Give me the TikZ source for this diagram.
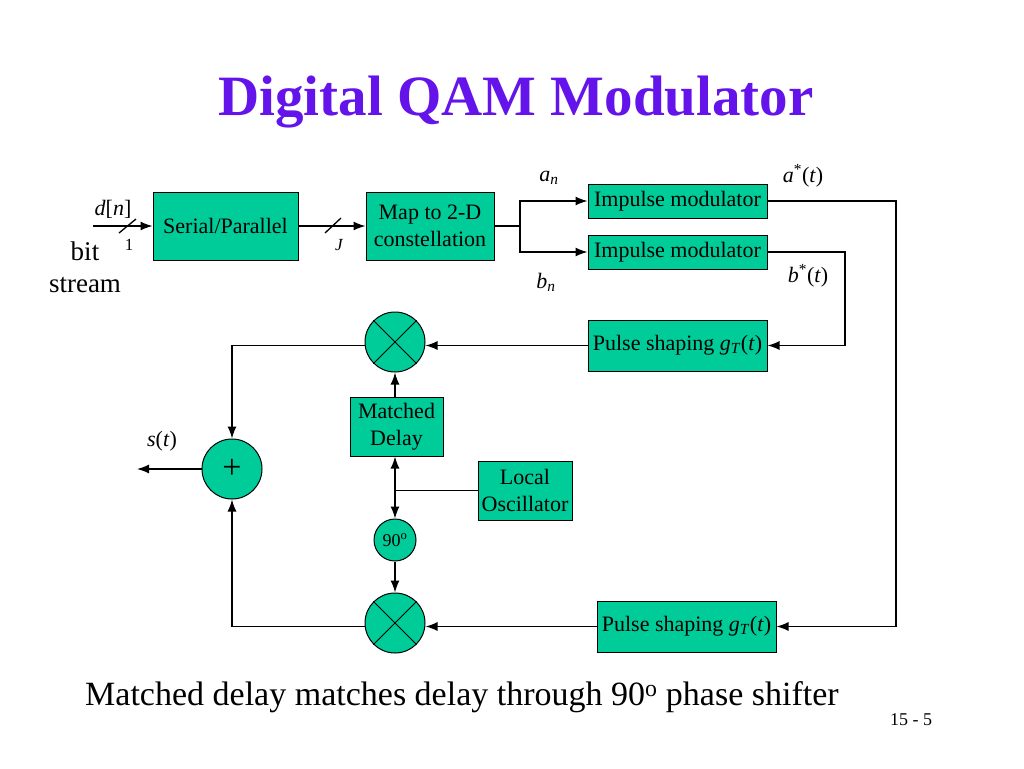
\documentclass[tikz,border=0pt]{standalone}
\usepackage{fontspec}
\setmainfont{Liberation Serif}
\usetikzlibrary{arrows.meta}
\definecolor{qgreen}{RGB}{0,204,153}
\definecolor{qpurple}{RGB}{100,20,235}
\begin{document}
\begin{tikzpicture}[x=1pt,y=-1pt,
  blk/.style={draw=black, line width=1pt, fill=qgreen, inner sep=0pt, align=center, font=\fontsize{22}{27}\selectfont},
  circ/.style={circle, draw=black, line width=1pt, fill=qgreen, inner sep=0pt, minimum size=60pt},
  arr/.style={-{Latex[length=12pt,width=9pt]}, line width=1.3pt},
  ln/.style={line width=1.3pt},
  lbl/.style={font=\fontsize{22}{24}\selectfont, inner sep=0pt}]
\useasboundingbox[fill=white] (0,0) rectangle (1024,768);

% title
\node[font=\fontsize{57}{60}\selectfont\bfseries, text=qpurple, inner sep=0pt] (title) at (516,102) {Digital QAM Modulator};

% blocks
\node[blk, minimum width=145pt, minimum height=68pt] (sp) at (225.5,226) {Serial/Parallel};
\node[blk, minimum width=128pt, minimum height=68pt] (map) at (430,226) {Map to 2-D\\constellation};
\node[blk, minimum width=179pt, minimum height=34pt] (im1) at (677.5,201) {Impulse modulator};
\node[blk, minimum width=179pt, minimum height=34pt] (im2) at (677.5,252) {Impulse modulator};
\node[blk, minimum width=179pt, minimum height=51pt] (ps1) at (677.5,345.5) {Pulse shaping \textit{g}\textsubscript{\textit{T}}(\textit{t})};
\node[blk, minimum width=179pt, minimum height=51pt] (ps2) at (686.5,626.5) {Pulse shaping \textit{g}\textsubscript{\textit{T}}(\textit{t})};
\node[blk, minimum width=93pt, minimum height=59pt] (md) at (396.5,426.5) {Matched\\Delay};
\node[blk, minimum width=94pt, minimum height=59pt] (lo) at (525,490.5) {Local\\Oscillator};

\node[circ] (m1) at (395,342) {};
\draw[line width=1pt] (m1.north west) -- (m1.south east) (m1.north east) -- (m1.south west);
\node[circ] (m2) at (395,623) {};
\draw[line width=1pt] (m2.north west) -- (m2.south east) (m2.north east) -- (m2.south west);
\node[circ, font=\fontsize{34}{34}\selectfont] (add) at (232,469) {+};
\node[circ, minimum size=42pt, font=\fontsize{18}{18}\selectfont] (ph) at (395,540) {90\textsuperscript{o}};

% labels
\node[lbl] (dn) at (113,209) {\textit{d}[\textit{n}]};
\node[lbl, font=\fontsize{17}{17}\selectfont] (one) at (129,245) {1};
\node[lbl, font=\fontsize{27}{27}\selectfont] (bit) at (85,251) {bit};
\node[lbl, font=\fontsize{27}{27}\selectfont] (stream) at (85,285) {stream};
\node[lbl, font=\fontsize{17}{17}\selectfont\itshape] (jl) at (339,245) {J};
\node[lbl] (an) at (549,178) {\textit{a}\textsubscript{\textit{n}}};
\node[lbl] (bn) at (546,282) {\textit{b}\textsubscript{\textit{n}}};
\node[lbl] (at) at (803,176) {\textit{a}\textsuperscript{*}(\textit{t})};
\node[lbl] (bt) at (808,276) {\textit{b}\textsuperscript{*}(\textit{t})};
\node[lbl] (st) at (162,441) {\textit{s}(\textit{t})};

% connectors
\coordinate (in) at (93,226);
\draw[arr] (in) -- (sp.west);
\draw[ln] (119,233) -- (136,219);
\draw[arr] (sp.east) -- (map.west);
\draw[ln] (325,233) -- (341,218);
\coordinate (br) at (520,226);
\draw[ln] (map.east) -- (br);
\draw[arr] (br) |- (im1.west);
\draw[arr] (br) |- (im2.west);
\coordinate (ra) at (896,201);
\coordinate (rb) at (845,252);
\draw[arr] (im1.east) -- (ra) |- (ps2.east);
\draw[arr] (im2.east) -- (rb) |- (ps1.east);
\draw[arr] (ps1.west) -- (m1.east |- ps1.west);
\draw[arr] (ps2.west) -- (m2.east |- ps2.west);
\draw[arr] (m1.west |- ps1.west) -| (add.north);
\draw[arr] (m2.west |- ps2.west) -| (add.south);
\coordinate (out) at (137,469);
\draw[arr] (add.west) -- (out);
\draw[arr] (md.north -| m1.south) -- (m1.south);
\coordinate (jn) at (m1.south |- lo.west);
\draw[ln] (lo.west) -- (jn);
\draw[arr] (jn) -- (jn |- md.south);
\draw[arr] (jn) -- (ph.north);
\draw[arr] (ph.south) -- (m2.north);

% bottom text
\node[font=\fontsize{34}{36}\selectfont, anchor=west, inner sep=0pt] (note) at (85,697) {Matched delay matches delay through 90\textsuperscript{o} phase shifter};
\node[font=\fontsize{18}{18}\selectfont, inner sep=0pt] (pg) at (911,720) {15 - 5};
\end{tikzpicture}
\end{document}
